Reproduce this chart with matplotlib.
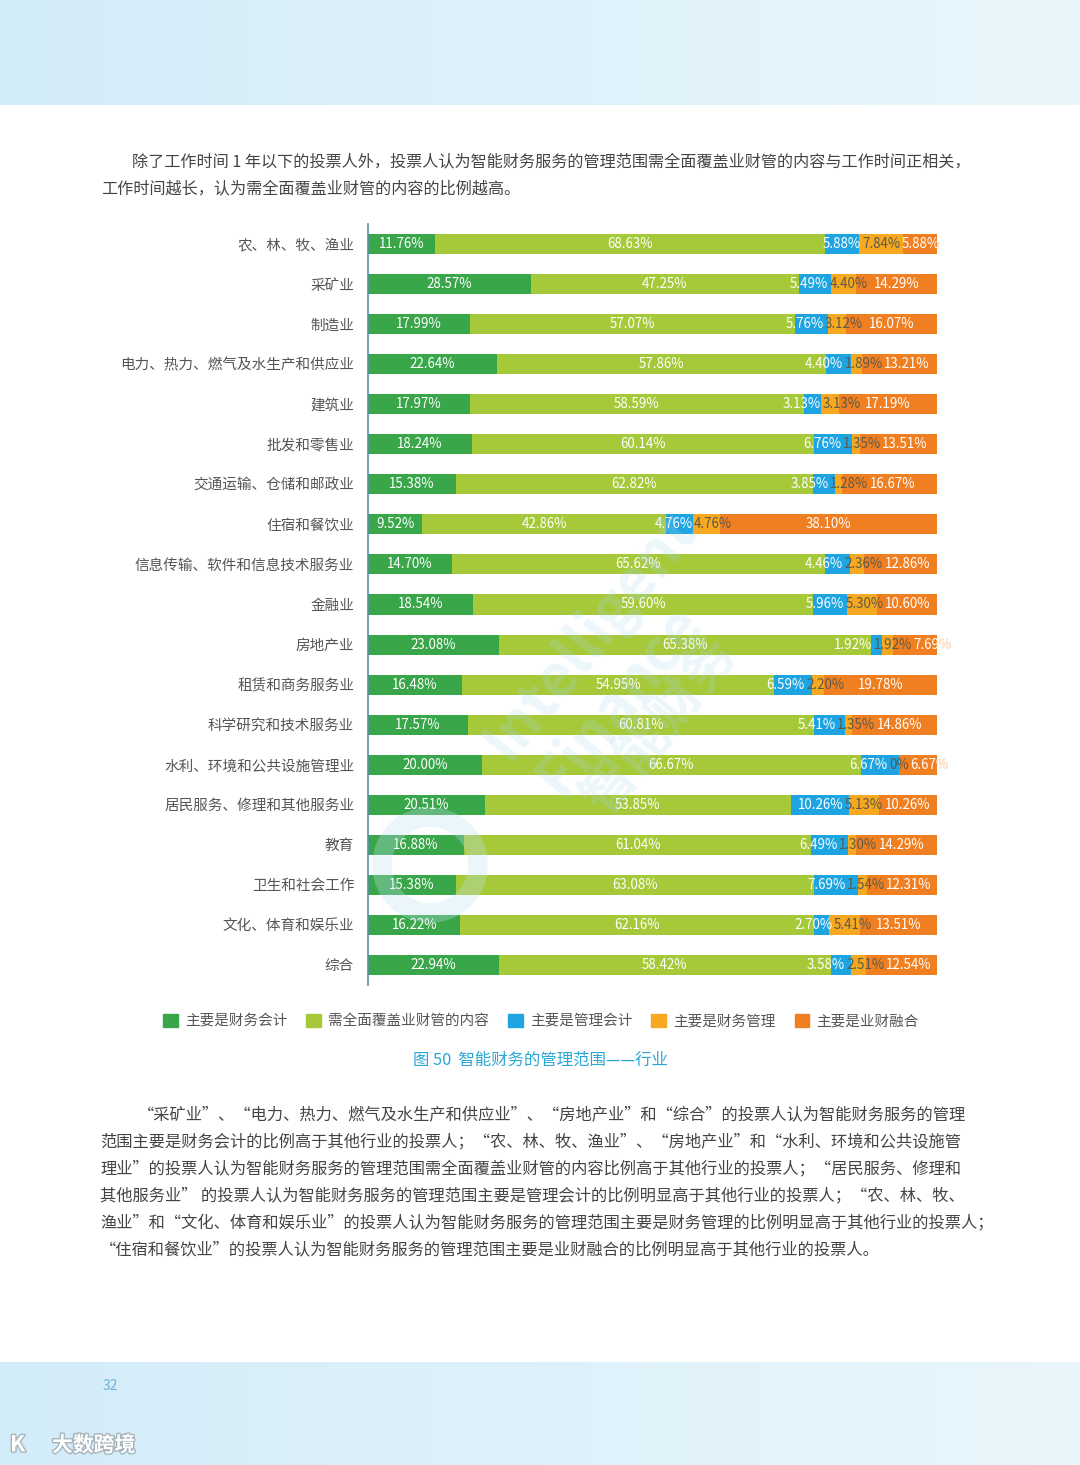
import numpy as np
import matplotlib.pyplot as plt
from matplotlib.patches import Patch, Circle
from matplotlib.colors import LinearSegmentedColormap
import matplotlib.patheffects as pe

plt.rcParams['font.family'] = ['Noto Sans CJK SC', 'DejaVu Sans']

industries = ['农、林、牧、渔业', '采矿业', '制造业', '电力、热力、燃气及水生产和供应业', '建筑业',
              '批发和零售业', '交通运输、仓储和邮政业', '住宿和餐饮业', '信息传输、软件和信息技术服务业',
              '金融业', '房地产业', '租赁和商务服务业', '科学研究和技术服务业', '水利、环境和公共设施管理业',
              '居民服务、修理和其他服务业', '教育', '卫生和社会工作', '文化、体育和娱乐业', '综合']
series_names = ['主要是财务会计', '需全面覆盖业财管的内容', '主要是管理会计', '主要是财务管理', '主要是业财融合']
fin_acct = [11.76, 28.57, 17.99, 22.64, 17.97, 18.24, 15.38, 9.52, 14.70, 18.54, 23.08, 16.48, 17.57, 20.00, 20.51, 16.88, 15.38, 16.22, 22.94]
full_cover = [68.63, 47.25, 57.07, 57.86, 58.59, 60.14, 62.82, 42.86, 65.62, 59.60, 65.38, 54.95, 60.81, 66.67, 53.85, 61.04, 63.08, 62.16, 58.42]
mgmt_acct = [5.88, 5.49, 5.76, 4.40, 3.13, 6.76, 3.85, 4.76, 4.46, 5.96, 1.92, 6.59, 5.41, 6.67, 10.26, 6.49, 7.69, 2.70, 3.58]
fin_mgmt = [7.84, 4.40, 3.12, 1.89, 3.13, 1.35, 1.28, 4.76, 2.36, 5.30, 1.92, 2.20, 1.35, 0.00, 5.13, 1.30, 1.54, 5.41, 2.51]
integration = [5.88, 14.29, 16.07, 13.21, 17.19, 13.51, 16.67, 38.10, 12.86, 10.60, 7.69, 19.78, 14.86, 6.67, 10.26, 14.29, 12.31, 13.51, 12.54]

colors = ['#3aa64a', '#a6c93a', '#1ea4e0', '#f6a821', '#f07f22']
label_colors = ['white', 'white', 'white', '#5a5a4a', 'white']

para_top = ['除了工作时间 1 年以下的投票人外，投票人认为智能财务服务的管理范围需全面覆盖业财管的内容与工作时间正相关，',
            '工作时间越长，认为需全面覆盖业财管的内容的比例越高。']
para_bottom = ['“采矿业”、“电力、热力、燃气及水生产和供应业”、“房地产业”和“综合”的投票人认为智能财务服务的管理',
               '范围主要是财务会计的比例高于其他行业的投票人；“农、林、牧、渔业”、“房地产业”和“水利、环境和公共设施管',
               '理业”的投票人认为智能财务服务的管理范围需全面覆盖业财管的内容比例高于其他行业的投票人；“居民服务、修理和',
               '其他服务业” 的投票人认为智能财务服务的管理范围主要是管理会计的比例明显高于其他行业的投票人；“农、林、牧、',
               '渔业”和“文化、体育和娱乐业”的投票人认为智能财务服务的管理范围主要是财务管理的比例明显高于其他行业的投票人；',
               '“住宿和餐饮业”的投票人认为智能财务服务的管理范围主要是业财融合的比例明显高于其他行业的投票人。']
caption = '图 50  智能财务的管理范围——行业'

W, H = 1080, 1465
fig = plt.figure(figsize=(W / 100, H / 100), dpi=100)

# page background, drawn in pixel coordinates
bg = fig.add_axes([0, 0, 1, 1])
grad = np.linspace(0, 1, 256).reshape(1, -1)
band = LinearSegmentedColormap.from_list('band', ['#d3ecf9', '#e9f6fc'])
bg.imshow(grad, extent=(0, W, 105, 0), cmap=band, aspect='auto')
bg.imshow(grad, extent=(0, W, H, 1362), cmap=band, aspect='auto')
bg.set_xlim(0, W)
bg.set_ylim(H, 0)
bg.axis('off')

txt_kw = dict(color='#444444', va='center', fontweight='light')
bg.text(132, 162, para_top[0], fontsize=11.6, **txt_kw)
bg.text(101, 189, para_top[1], fontsize=11.6, **txt_kw)
for i, line in enumerate(para_bottom):
    x0 = 138 if i == 0 else 100
    bg.text(x0, 1115 + i * 27, line, fontsize=11.7, **txt_kw)
bg.text(540, 1060, caption, fontsize=11.8, color='#2aa7d5', ha='center', va='center')
bg.text(110, 1386, '32', fontsize=10, color='#6fb2d8', ha='center', va='center')
bg.text(52, 1445, '大数跨境', fontsize=15, color='white', va='center', fontweight='bold',
        path_effects=[pe.withStroke(linewidth=2, foreground='#a8b4bc')])
bg.text(10, 1445, 'K', fontsize=16, color='white', va='center', fontweight='bold',
        path_effects=[pe.withStroke(linewidth=2, foreground='#a8b4bc')])

# chart
ax = fig.add_axes([368 / W, 1 - 985 / H, 569 / W, 761 / H])
ax.set_xlim(0, 100)
ax.set_ylim(len(industries) - 0.5, -0.5)
series = [fin_acct, full_cover, mgmt_acct, fin_mgmt, integration]
y = np.arange(len(industries))
left = np.zeros(len(industries))
row_labels = [[] for _ in industries]   # per row: [center, [texts]]
for vals, col, lc in zip(series, colors, label_colors):
    vals = np.array(vals)
    bars = ax.barh(y, vals, left=left, height=0.5, color=col, zorder=2)
    for r, (b, v, l) in enumerate(zip(bars, vals, left)):
        cx = l + v / 2
        label = '0%' if v == 0 else f'{v:.2f}%'
        texts = []
        if col == colors[4]:
            # part of the label running past the bar end shows in the bar colour
            texts.append(ax.text(cx, r, label, ha='center', va='center', fontsize=9.6,
                                 color=col, clip_on=False, zorder=3))
            t = ax.text(cx, r, label, ha='center', va='center', fontsize=9.6, color=lc, zorder=4)
            t.set_clip_path(b)
            texts.append(t)
        else:
            texts.append(ax.text(cx, r, label, ha='center', va='center', fontsize=9.6,
                                 color=lc, clip_on=False, zorder=4))
        row_labels[r].append([cx, texts])
    left = left + vals

# spread crowded labels apart along each bar
renderer = fig.canvas.get_renderer()
px_per_unit = ax.get_window_extent(renderer).width / 100
gap = 1.5 / px_per_unit
for labels in row_labels:
    widths = [lab[1][-1].get_window_extent(renderer).width / px_per_unit for lab in labels]
    for _ in range(300):
        for i in range(len(labels) - 1):
            a, b = labels[i], labels[i + 1]
            ov = (a[0] + widths[i] / 2) - (b[0] - widths[i + 1] / 2) + gap
            if ov > 1e-4:
                a[0] -= ov / 2
                b[0] += ov / 2
    for c, texts in labels:
        for t in texts:
            t.set_x(c)

ax.set_yticks(y)
ax.set_yticklabels(industries, fontsize=10.5, color='#555555', fontweight='light')
ax.tick_params(axis='y', length=0, pad=10)
ax.set_xticks([])
for s in ['top', 'right', 'bottom']:
    ax.spines[s].set_visible(False)
ax.spines['left'].set_color('#5b8fa8')
ax.spines['left'].set_linewidth(1.2)
ax.patch.set_alpha(0)

# faint watermark over the chart
wm = dict(color='#a9d8f0', alpha=0.22, ha='center', va='center', rotation=51, fontweight='bold')
top = fig.add_axes([0, 0, 1, 1], zorder=10)
top.set_xlim(0, W)
top.set_ylim(H, 0)
top.axis('off')
top.text(590, 635, 'Intelligent', fontsize=42, **wm)
top.text(620, 700, 'Finance', fontsize=42, **wm)
top.text(660, 725, '智能财务', fontsize=38, **wm)
top.add_patch(Circle((430, 865), 48, fill=False, lw=14, ec='#bfe3f4', alpha=0.3))

handles = [Patch(color=c) for c in colors]
fig.legend(handles, series_names, loc='center', bbox_to_anchor=(541 / W, 1 - 1021 / H), ncol=5,
           frameon=False, fontsize=10.5, handlelength=1.0, handleheight=1.0, handletextpad=0.5,
           columnspacing=1.3, labelcolor='#555555')

fig.savefig('out.png', dpi=100)
